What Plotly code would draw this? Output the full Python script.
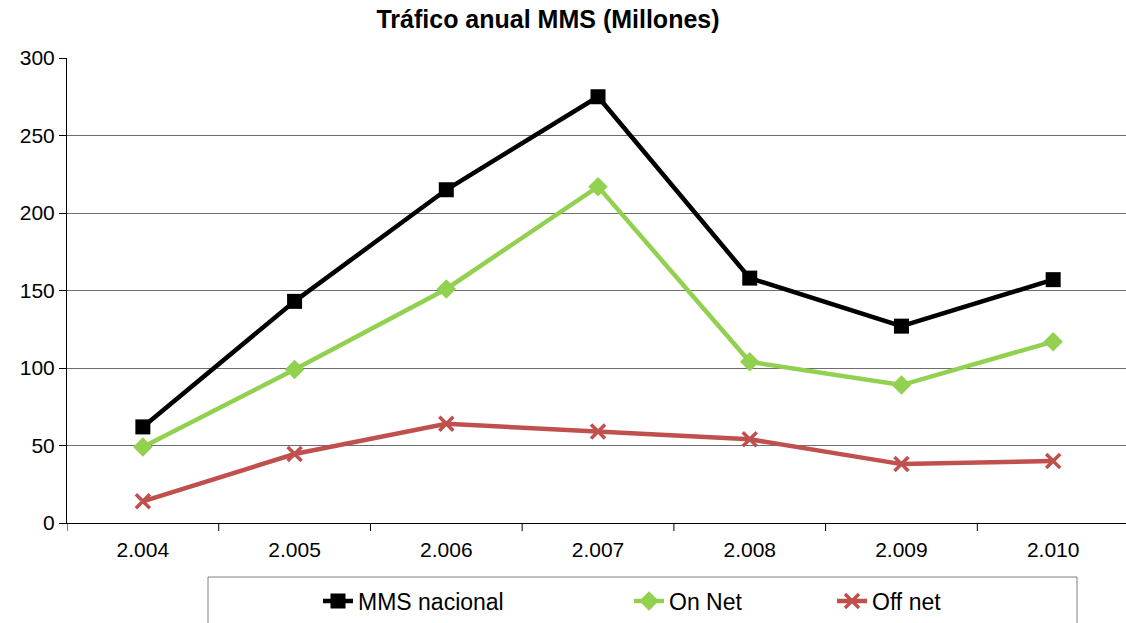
import plotly.graph_objects as go

years = ["2.004", "2.005", "2.006", "2.007", "2.008", "2.009", "2.010"]
mms_nacional = [62, 143, 215, 275, 158, 127, 157]
on_net = [49, 99, 151, 217, 104, 89, 117]
off_net = [14, 44.5, 64, 59, 54, 38, 40]

x_idx = list(range(len(years)))

FONT = "Liberation Sans, Arial"

fig = go.Figure()
fig.add_trace(go.Scatter(x=x_idx, y=mms_nacional, name="MMS nacional", mode="lines+markers",
                         line=dict(color="#000000", width=4.5),
                         marker=dict(symbol="square", size=15, color="#000000"),
                         legend="legend"))
fig.add_trace(go.Scatter(x=x_idx, y=on_net, name="On Net", mode="lines+markers",
                         line=dict(color="#92D050", width=4.5),
                         marker=dict(symbol="diamond", size=15, color="#92D050"),
                         legend="legend2"))
fig.add_trace(go.Scatter(x=x_idx, y=off_net, name="Off net", mode="lines+markers",
                         line=dict(color="#C0504D", width=4.5),
                         marker=dict(symbol="x-thin", size=14, color="#C0504D",
                                     line=dict(color="#C0504D", width=3.5)),
                         legend="legend3"))

W, H = 1126, 623
ml, mr, mt, mb = 67, 0, 58, 100

def px_x(p):
    return (p - ml) / (W - ml - mr)

def px_y(p):
    return (H - mb - p) / (H - mt - mb)

leg_common = dict(orientation="h", xanchor="left", yanchor="middle",
                  font=dict(family=FONT, size=23, color="#000000"),
                  bgcolor="rgba(0,0,0,0)", borderwidth=0, itemwidth=30)

fig.update_layout(
    width=W, height=H,
    margin=dict(l=ml, r=mr, t=mt, b=mb),
    paper_bgcolor="white", plot_bgcolor="white",
    title=dict(text="<b>Tráfico anual MMS (Millones)</b>", x=548 / W, xanchor="center",
               y=1 - 19 / H, yanchor="middle",
               font=dict(family=FONT, size=25, color="#000000")),
    showlegend=True,
    legend=dict(x=px_x(318), y=px_y(601), xref="paper", yref="paper", **leg_common),
    legend2=dict(x=px_x(629), y=px_y(601), xref="paper", yref="paper", **leg_common),
    legend3=dict(x=px_x(832), y=px_y(601), xref="paper", yref="paper", **leg_common),
    xaxis=dict(
        tickmode="array", tickvals=x_idx, ticktext=years,
        range=[-0.5, 6.48],
        showgrid=False, zeroline=False,
        showline=True, linecolor="#000000", linewidth=1,
        ticks="", ticklabelstandoff=8,
        tickfont=dict(family=FONT, size=21, color="#000000"),
    ),
    yaxis=dict(
        range=[0, 300], tickvals=[0, 50, 100, 150, 200, 250, 300],
        showgrid=True, gridcolor="#6E6E6E", gridwidth=1,
        zeroline=False,
        showline=True, linecolor="#000000", linewidth=1,
        ticks="outside", ticklen=7, tickcolor="#000000",
        tickfont=dict(family=FONT, size=21, color="#000000"),
    ),
)

# category separator tick marks below the x axis
for k in range(len(years) + 1):
    fig.add_shape(type="line", xref="x", yref="paper",
                  x0=k - 0.5, x1=k - 0.5, y0=0, y1=-8 / (H - mt - mb),
                  line=dict(color="#000000", width=1))

# legend frame
fig.add_shape(type="rect", xref="paper", yref="paper",
              x0=px_x(208), x1=px_x(1077), y0=px_y(577), y1=px_y(640),
              line=dict(color="#808080", width=1), fillcolor="rgba(0,0,0,0)")

fig.write_html("out.html", config={"displayModeBar": False},
               post_script="document.body.style.margin='0';")
